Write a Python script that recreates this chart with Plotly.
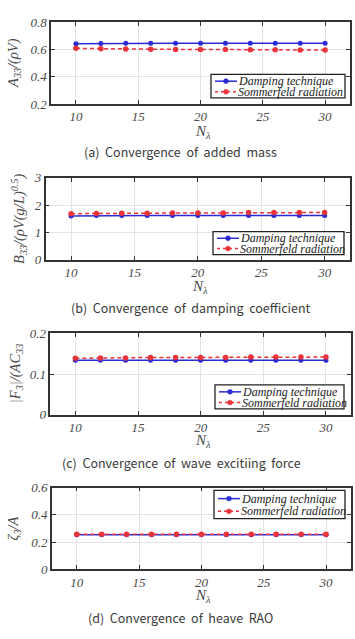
import plotly.graph_objects as go

W, H = 355, 639

# ---------------- data ----------------
N_lambda = [10, 12, 14, 16, 18, 20, 22, 24, 26, 28, 30]

added_mass_damping = [0.641, 0.643, 0.644, 0.644, 0.644, 0.644, 0.644, 0.644, 0.644, 0.644, 0.644]
added_mass_sommer = [0.607, 0.604, 0.602, 0.601, 0.599, 0.599, 0.598, 0.597, 0.596, 0.595, 0.594]

damping_damping = [1.61, 1.62, 1.62, 1.62, 1.62, 1.62, 1.62, 1.62, 1.62, 1.62, 1.62]
damping_sommer = [1.69, 1.70, 1.71, 1.71, 1.72, 1.72, 1.72, 1.73, 1.73, 1.73, 1.73]

force_damping = [0.134, 0.134, 0.134, 0.134, 0.134, 0.134, 0.134, 0.134, 0.134, 0.134, 0.134]
force_sommer = [0.139, 0.140, 0.140, 0.141, 0.141, 0.141, 0.141, 0.142, 0.142, 0.142, 0.142]

rao_damping = [0.254, 0.254, 0.254, 0.254, 0.254, 0.254, 0.254, 0.254, 0.254, 0.254, 0.254]
rao_sommer = [0.257, 0.257, 0.257, 0.257, 0.257, 0.257, 0.257, 0.257, 0.257, 0.257, 0.257]

series_names = ["Damping technique", "Sommerfeld radiation"]
x_ticks = [10, 15, 20, 25, 30]
y_titles = ["<i>A</i><sub>33</sub>/(<i>ρV</i>)",
            "<i>B</i><sub>33</sub>/(<i>ρV</i>(g/<i>L</i>)<sup>0.5</sup>)",
            "|<i>F</i><sub>3</sub>|/(<i>AC</i><sub>33</sub>",
            "<i>ζ</i><sub>3</sub>/<i>A</i>"]
captions = ["(a)\u00a0 Convergence\u00a0 of\u00a0 added\u00a0 mass",
            "(b)\u00a0 Convergence\u00a0 of\u00a0 damping\u00a0 coefficient",
            "(c)\u00a0 Convergence\u00a0 of\u00a0 wave\u00a0 excitiing\u00a0 force",
            "(d)\u00a0 Convergence\u00a0 of\u00a0 heave\u00a0 RAO"]

# ---------------- layout geometry (pixels) ----------------
def px(x):
    return x / W

def py(y):
    return 1 - y / H

panels = [
    dict(data=(added_mass_damping, added_mass_sommer), yrange=[0.2, 0.8], dtick=0.2,
         box=(51, 350, 15.3, 99.3), legend=(211, 345, 69, 93), ytitle_x=14, cap=(180, 148), xt_y=128),
    dict(data=(damping_damping, damping_sommer), yrange=[0, 3], dtick=1,
         box=(45.7, 350, 175, 259), legend=(213, 344, 230, 253.5), ytitle_x=19, cap=(191.5, 307.5), xt_y=287),
    dict(data=(force_damping, force_sommer), yrange=[0, 0.2], dtick=0.1,
         box=(50.3, 351, 334.3, 417.7), legend=(215, 344, 387, 411.5), ytitle_x=16, cap=(181, 466.5), xt_y=444),
    dict(data=(rao_damping, rao_sommer), yrange=[0, 0.6], dtick=0.2,
         box=(51.8, 351, 492.3, 575.7), legend=(214, 345, 495, 524), ytitle_x=14, cap=(180.5, 625.5), xt_y=603),
]

SERIF = "Liberation Serif"
BLUE = "#2b2bd6"
RED = "#e8333a"
TICKFONT = dict(family=SERIF, size=13, color="#4a4a4a", style="italic")

fig = go.Figure()
shapes = []
annotations = []

for i, p in enumerate(panels):
    k = "" if i == 0 else str(i + 1)
    xa, ya = "x" + k, "y" + k
    d_vals, s_vals = p["data"]
    fig.add_trace(go.Scatter(x=N_lambda, y=d_vals, xaxis=xa, yaxis=ya, mode="lines+markers",
                             name=series_names[0], showlegend=False,
                             line=dict(color=BLUE, width=1.5),
                             marker=dict(color=BLUE, size=5, symbol="circle")))
    fig.add_trace(go.Scatter(x=N_lambda, y=s_vals, xaxis=xa, yaxis=ya, mode="lines+markers",
                             name=series_names[1], showlegend=False,
                             line=dict(color=RED, width=1.5, dash="4px,3px"),
                             marker=dict(color=RED, size=5.5, symbol="circle")))
    x0, x1, y0, y1 = p["box"]
    axcommon = dict(showline=True, linecolor="#333333", linewidth=1.5, mirror="allticks",
                    ticks="inside", ticklen=4, tickcolor="#333333", showgrid=True,
                    gridcolor="#e3e3e3", gridwidth=1, zeroline=False, tickfont=TICKFONT)
    fig.update_layout(**{
        "xaxis" + k: dict(domain=[px(x0), px(x1)], anchor=ya, range=[8, 32],
                          tickvals=x_ticks, **axcommon),
        "yaxis" + k: dict(domain=[py(y1), py(y0)], anchor=xa, range=p["yrange"],
                          dtick=p["dtick"], tick0=0, **axcommon),
    })
    # y title
    annotations.append(dict(x=px(p["ytitle_x"]), y=py((y0 + y1) / 2), xref="paper", yref="paper",
                            text=y_titles[i], textangle=-90, showarrow=False,
                            font=dict(family=SERIF, size=14.5, color="#4a4a4a", style="italic"),
                            xanchor="center", yanchor="middle"))
    # x title
    annotations.append(dict(x=px((x0 + x1) / 2 + 2), y=py(p["xt_y"]), xref="paper", yref="paper",
                            text="<i>N</i><sub><i>λ</i></sub>", showarrow=False,
                            font=dict(family=SERIF, size=15, color="#4a4a4a", style="italic"),
                            xanchor="center", yanchor="middle"))
    # caption
    cx, cy = p["cap"]
    annotations.append(dict(x=px(cx), y=py(cy), xref="paper", yref="paper", text=captions[i],
                            showarrow=False, font=dict(family="Noto Sans CJK KR", size=12.5, color="#3a3a3a"),
                            xanchor="center", yanchor="middle"))
    # legend box
    lx0, lx1, ly0, ly1 = p["legend"]
    shapes.append(dict(type="rect", xref="paper", yref="paper", x0=px(lx0), x1=px(lx1),
                       y0=py(ly1), y1=py(ly0), line=dict(color="#222222", width=1.3),
                       fillcolor="white", layer="above"))
    rows = [(ly0 + (ly1 - ly0) * 0.29, BLUE, "solid"), (ly0 + (ly1 - ly0) * 0.74, RED, "dash")]
    for j, (ry, col, dash) in enumerate(rows):
        shapes.append(dict(type="line", xref="paper", yref="paper", x0=px(lx0 + 4), x1=px(lx0 + 26),
                           y0=py(ry), y1=py(ry), line=dict(color=col, width=1.5,
                                                           dash="solid" if dash == "solid" else "3px,3px"),
                           layer="above"))
        mxc = lx0 + 15
        shapes.append(dict(type="circle", xref="paper", yref="paper", x0=px(mxc - 2.5), x1=px(mxc + 2.5),
                           y0=py(ry + 2.5), y1=py(ry - 2.5), fillcolor=col, line=dict(color=col, width=0.5),
                           layer="above"))
        annotations.append(dict(x=px(lx0 + 26), y=py(ry), xref="paper", yref="paper",
                                text=series_names[j], showarrow=False, borderpad=0,
                                font=dict(family=SERIF, size=12, color="#222222", style="italic"),
                                xanchor="left", yanchor="middle"))

fig.update_layout(width=W, height=H, margin=dict(l=0, r=0, t=0, b=0),
                  paper_bgcolor="white", plot_bgcolor="white", showlegend=False,
                  shapes=shapes, annotations=annotations)

fig.write_html("out.html")
